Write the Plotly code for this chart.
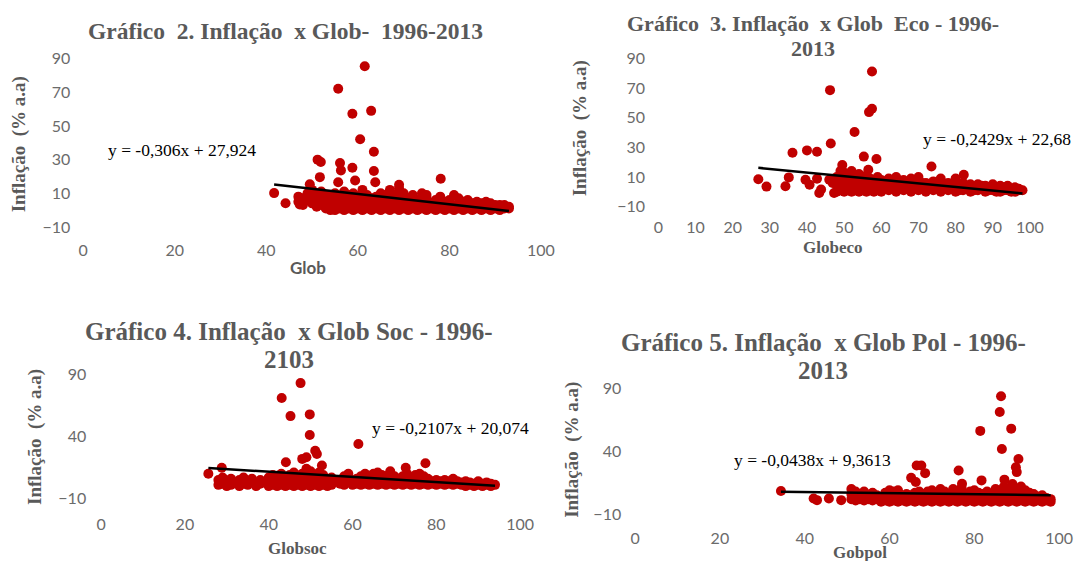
import plotly.graph_objects as go

W, H = 1084, 561

# ---------------- data ----------------
# Chart 2 (Glob)
g1_out_x = [61.5, 55.7, 58.8, 62.9, 60.5, 63.5, 51.2, 51.9, 56.1, 58.8, 56.3, 63.5, 51.7, 55.7, 59.4, 63.8, 78.1, 41.7, 44.2, 47.3, 49.5]
g1_out_y = [85.5, 72.1, 57.3, 59.0, 42.1, 34.7, 30.0, 28.6, 28.0, 25.2, 23.6, 23.2, 19.6, 16.6, 17.6, 16.6, 18.6, 10.1, 4.1, 3.3, 15.3]
g1_band_x = list(range(47, 94))
g1_band_y = [[5, 8], [3, 7], [6, 10], [4, 8, 12], [2, 6, 9], [3, 7, 11], [1, 5, 9], [0, 4, 8],
             [0, 3, 6, 10], [1, 4, 8], [0, 3, 7, 11], [1, 5, 9], [0, 3, 6, 10], [1, 4, 8], [0, 3, 6, 12],
             [1, 5, 9], [0, 3, 7], [1, 4, 8], [0, 3, 6, 10], [1, 5, 9], [0, 3, 7, 12], [1, 4, 9],
             [0, 3, 6, 13, 15], [1, 5, 10], [0, 3, 7], [1, 4, 9], [0, 3, 6], [1, 5, 10], [0, 3, 7, 9],
             [1, 4], [0, 3, 6], [1, 4, 8], [0, 2, 5], [1, 3, 6], [0, 2, 9], [1, 4, 7], [0, 2, 5],
             [1, 3, 6], [0, 2, 4], [1, 3, 5], [0, 2, 4], [1, 3, 5], [0, 2, 4], [1, 3], [0, 2, 3],
             [1, 2, 3], [1, 2]]
g1_coef = (-0.306, 27.924)

# Chart 3 (Globeco)
g2_out_x = [57.5, 46.2, 56.7, 57.5, 52.8, 46.4, 36.1, 40.0, 42.7, 55.3, 58.7, 56.5, 49.5, 73.5, 82.2, 26.9, 29.1, 34.2, 35.1, 39.6, 40.7, 42.7, 43.8, 43.3, 46.0, 46.9, 47.3]
g2_out_y = [81.0, 68.5, 53.7, 55.9, 40.3, 32.5, 26.3, 27.9, 27.0, 23.7, 22.1, 14.8, 18.1, 17.0, 11.5, 8.5, 3.5, 3.7, 9.7, 8.1, 4.8, 8.8, 1.5, -0.8, 8.1, 5.9, -0.8]
g2_band_x = list(range(48, 99))
g2_band_y = [[0, 5, 10], [1, 7, 14], [0, 4, 9, 13], [1, 6, 11], [0, 3, 8, 14], [1, 5, 10], [0, 4, 8, 12],
             [1, 5, 9], [0, 3, 7, 11], [1, 5, 9], [0, 4, 8], [1, 3, 6, 10], [0, 4, 8], [2, 6], [1, 5, 9],
             [3, 7], [0, 3, 7, 10], [2, 5], [1, 4, 8], [2, 6], [0, 3, 6, 9], [2, 5], [1, 4, 8, 10], [2, 6],
             [0, 3, 6], [2, 5], [1, 4, 7], [2, 5], [0, 3, 6, 9], [2, 4], [1, 3, 6], [2, 5], [0, 2, 5, 9],
             [1, 4], [1, 3, 6], [2, 4], [0, 2, 5], [1, 3], [1, 3, 5], [2, 4], [0, 2, 4], [1, 3], [1, 3, 5],
             [0, 2], [0, 2, 4], [1, 3], [1, 2, 4], [0, 2], [0, 2, 3], [1, 2], [1]]
g2_coef = (-0.2429, 22.68)

# Chart 4 (Globsoc)
g3_out_x = [47.6, 43.1, 45.2, 49.8, 49.8, 61.4, 51.1, 51.5, 48.0, 49.0, 44.1, 77.4, 72.7, 52.7, 25.6, 28.8]
g3_out_y = [83.3, 71.3, 56.6, 58.0, 41.4, 34.0, 28.6, 26.0, 22.0, 23.3, 19.3, 18.5, 14.8, 16.6, 10.0, 14.8]
g3_band_x = [28, 29, 30, 31, 32, 33, 34, 35, 36, 37, 38, 40, 41, 42, 43, 44, 45, 46, 47, 48, 49, 50,
             51, 52, 53, 54, 55, 57, 58, 59, 60, 61, 62, 63, 64, 65, 66, 67, 68, 69, 70, 71, 72, 73,
             74, 75, 76, 77, 78, 79, 80, 81, 82, 83, 84, 85, 86, 87, 88, 89, 90, 91, 92, 93, 94]
g3_band_y = [[1, 5], [2, 7], [0, 4], [1, 6], [3], [0, 5], [2, 7], [1, 4], [3, 6], [0], [2, 5],
             [0, 3, 7], [1, 5, 9], [0, 3, 7], [1, 5, 10], [0, 3, 7], [1, 5, 9], [0, 3, 7, 11], [1, 4, 8],
             [0, 3, 6, 10], [1, 5, 9, 14], [0, 3, 7, 12], [1, 5, 9], [0, 3, 7, 11], [1, 5, 9], [0, 3],
             [1, 4, 7], [2, 5], [1, 4, 8], [3, 7, 10], [1, 4], [2, 6], [1, 4, 8], [2, 6, 10], [1, 4, 8],
             [2, 6, 10], [1, 4, 8, 11], [2, 6, 9], [1, 4, 8], [2, 6, 10, 12], [1, 4, 8], [2, 6], [1, 4, 8],
             [2, 6, 10], [1, 4, 7], [2, 5, 9], [1, 4, 7, 10], [2, 5, 8], [1, 4, 6], [2, 4], [1, 3, 5],
             [2, 4], [1, 3, 5], [2, 4], [1, 3, 6], [2, 4], [1, 3], [0, 2, 4], [1, 3], [0, 2], [1, 3, 4],
             [0, 2], [1, 3], [0, 2], [1]]
g3_coef = (-0.2107, 20.074)

# Chart 5 (Gobpol)
g4_out_x = [86.3, 86.0, 88.7, 81.4, 86.5, 90.4, 89.8, 90.0, 76.3, 66.4, 67.5, 68.4, 65.1, 66.2, 81.7, 87.1, 77.1, 34.4, 42.1, 42.9, 45.7, 48.6]
g4_out_y = [83.9, 71.3, 58.1, 56.3, 41.9, 34.0, 27.4, 23.5, 24.8, 28.7, 28.7, 22.7, 19.0, 15.6, 16.9, 17.5, 14.3, 8.5, 2.5, 1.2, 2.5, 1.2]
g4_band_x = list(range(51, 99))
g4_band_y = [[2, 6, 10], [1, 4, 8], [2, 6], [1, 4, 8], [2, 5], [1, 4, 7], [2, 5], [0, 3], [1, 4, 7],
             [0, 3, 6, 9], [1, 4, 8], [0, 3, 9], [1, 4], [0, 3, 6], [1, 2, 5], [0, 3, 7], [1, 4, 8],
             [0, 3, 6], [1, 4, 8], [0, 3, 6, 9], [1, 4, 7], [0, 3, 6, 10], [1, 4, 8], [0, 3, 6],
             [1, 4, 8, 10], [0, 3, 6], [1, 4, 7, 11], [0, 3, 6], [1, 4, 8], [0, 3, 6, 9], [1, 4, 7],
             [0, 3, 6], [1, 4, 8], [0, 3, 6], [1, 4, 7, 10], [0, 3, 6, 9], [1, 4, 7, 12], [0, 3, 6, 9],
             [1, 4, 7, 11, 14], [0, 3, 6, 10], [1, 4, 7, 12], [0, 3, 6, 9], [1, 4, 7], [0, 3, 6], [1, 4],
             [0, 2, 5], [1, 3], [0, 2]]
g4_coef = (-0.0438, 9.3613)

titles = [["Gráfico  2. Inflação  x Glob-  1996-2013"],
          ["Gráfico  3. Inflação  x Glob  Eco - 1996-", "2013"],
          ["Gráfico 4. Inflação  x Glob Soc - 1996-", "2103"],
          ["Gráfico 5. Inflação  x Glob Pol - 1996-", "2013"]]
x_titles = ["Glob", "Globeco", "Globsoc", "Gobpol"]
y_title = "Inflação  (% a.a)"
equations = ["y = -0,306x + 27,924", "y = -0,2429x + 22,68", "y = -0,2107x + 20,074", "y = -0,0438x + 9,3613"]
x_ticks = [[0, 20, 40, 60, 80, 100], list(range(0, 101, 10)), [0, 20, 40, 60, 80, 100], [0, 20, 40, 60, 80, 100]]
y_ticks = [[-10, 10, 30, 50, 70, 90], [-10, 10, 30, 50, 70, 90], [-10, 40, 90], [-10, 40, 90]]

# ---------------- layout geometry (pixels) ----------------
# left, right, top, bottom, x0px, px/unit x, y0px, px/unit y
geo = [
    (72, 550, 46, 236, 84, 4.62, 206.3, 1.7),
    (652, 1044, 47, 212, 664.5, 3.75, 187.8, 1.5),
    (88, 530, 368, 512, 102, 4.23, 485.3, 1.25),
    (628, 1073, 380, 527, 641, 4.28, 501.0, 1.27),
]
title_pos = [[(288, 25)], [(821, 18), (821, 43)], [(292, 329), (292, 357)], [(831, 340), (831, 368)]]
title_size = [23.5, 22, 25, 25]
eq_pos = [(184, 146), (1006, 134), (455, 427), (820, 459)]
ytitle_pos = [(19, 140), (585, 124), (36, 436), (578, 449)]
xtitle_pos = [(311, 264), (841, 244), (300, 548), (868, 552)]

RED = "#C00000"
GRAY = "#595959"
TICK = "#6b6b6b"
SERIF = "Liberation Serif, Times New Roman, serif"
SANS = "Lato, Open Sans, sans-serif"


def px(x):
    return x / W


def py(y):
    return 1 - y / H


fig = go.Figure()

sets = [
    (g1_out_x, g1_out_y, g1_band_x, g1_band_y, g1_coef),
    (g2_out_x, g2_out_y, g2_band_x, g2_band_y, g2_coef),
    (g3_out_x, g3_out_y, g3_band_x, g3_band_y, g3_coef),
    (g4_out_x, g4_out_y, g4_band_x, g4_band_y, g4_coef),
]

annotations = []
for i, (ox, oy, bx, by, coef) in enumerate(sets):
    xs = list(ox)
    ys = list(oy)
    for xv, col in zip(bx, by):
        for yv in col:
            xs.append(xv)
            ys.append(yv)
    suffix = "" if i == 0 else str(i + 1)
    fig.add_trace(go.Scatter(x=xs, y=ys, mode="markers", xaxis="x" + suffix, yaxis="y" + suffix,
                             marker=dict(size=10, color=RED, line=dict(width=0)),
                             hoverinfo="x+y", showlegend=False))
    xmin, xmax = min(xs), max(xs)
    m, b = coef
    fig.add_trace(go.Scatter(x=[xmin, xmax], y=[m * xmin + b, m * xmax + b], mode="lines",
                             xaxis="x" + suffix, yaxis="y" + suffix,
                             line=dict(color="black", width=2.5), showlegend=False, hoverinfo="skip"))

    left, right, top, bottom, x0, sx, y0, sy = geo[i]
    axis_common = dict(showgrid=False, zeroline=False, showline=False, ticks="",
                       tickfont=dict(family=SANS, size=16, color=TICK))
    fig.update_layout(**{
        "xaxis" + suffix: dict(domain=[px(left), px(right)],
                               range=[(left - x0) / sx, (right - x0) / sx],
                               tickvals=x_ticks[i], anchor="y" + suffix, **axis_common),
        "yaxis" + suffix: dict(domain=[py(bottom), py(top)],
                               range=[(y0 - bottom) / sy, (y0 - top) / sy],
                               tickvals=y_ticks[i], anchor="x" + suffix, **axis_common),
    })

    for line_text, (tx, ty) in zip(titles[i], title_pos[i]):
        annotations.append(dict(text=line_text.replace("  ", "\u00a0 "), x=px(tx), y=py(ty),
                                xref="paper", yref="paper",
                                xanchor="center", yanchor="middle", showarrow=False,
                                font=dict(family=SERIF, size=title_size[i], color=GRAY, weight="bold")))
    ex, ey = eq_pos[i]
    annotations.append(dict(text=equations[i], x=px(ex), y=py(ey), xref="paper", yref="paper",
                            xanchor="center", yanchor="middle", showarrow=False,
                            font=dict(family=SERIF, size=17.5, color="black")))
    yx, yy = ytitle_pos[i]
    annotations.append(dict(text=y_title.replace("  ", "\u00a0 "), x=px(yx), y=py(yy),
                            xref="paper", yref="paper",
                            xanchor="center", yanchor="middle", showarrow=False, textangle=-90,
                            font=dict(family=SERIF, size=19, color=GRAY, weight="bold")))
    xx, xy = xtitle_pos[i]
    xfont = dict(family=SANS, size=17, color=GRAY, weight="bold") if i == 0 else \
        dict(family=SERIF, size=17, color=GRAY, weight="bold")
    annotations.append(dict(text=x_titles[i], x=px(xx), y=py(xy), xref="paper", yref="paper",
                            xanchor="center", yanchor="middle", showarrow=False, font=xfont))

fig.update_layout(width=W, height=H, margin=dict(l=0, r=0, t=0, b=0),
                  paper_bgcolor="white", plot_bgcolor="white", showlegend=False,
                  annotations=annotations)

fig.write_html("out.html", config={"displayModeBar": False},
               post_script="document.body.style.margin='0';")
